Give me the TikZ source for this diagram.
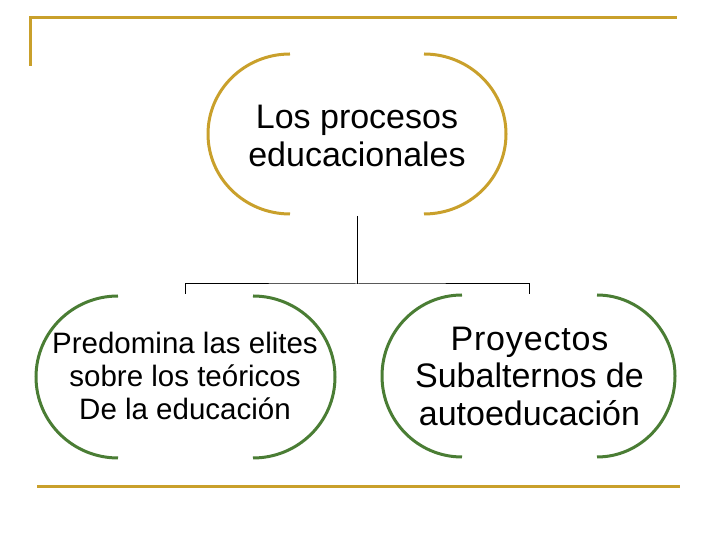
\documentclass[tikz,border=0pt]{standalone}
\usepackage{fontspec}
\setmainfont{Liberation Sans}
\definecolor{goldline}{RGB}{201,160,43}
\definecolor{greenline}{RGB}{74,125,52}
\begin{document}
\begin{tikzpicture}[x=1pt,y=1pt,
  goldarc/.style={draw=goldline,line width=3pt},
  greenarc/.style={draw=greenline,line width=3pt},
  frameline/.style={draw=goldline,line width=3pt},
  conn/.style={draw=black,line width=1pt},
  box/.style={inner sep=0pt,outer sep=0pt,align=center,text=black}]
\useasboundingbox (0,0) rectangle (720,540);
% frame
\draw[frameline] (30,474) -- (30,522) -- (677,522);
\draw[frameline] (37,53) -- (680,53);
% nodes (invisible boxes spanning the bracket shapes)
\node[box,minimum width=298pt,minimum height=164pt] (top) at (357,406) {};
\node[box,minimum width=299pt,minimum height=166pt] (bl) at (185.5,163) {};
\node[box,minimum width=293pt,minimum height=164pt] (br) at (529.5,164) {};
% texts
\node[box,font=\fontsize{34}{37.5}\selectfont] (toptext) at ([yshift=-2pt]top.center) {Los procesos\\educacionales};
\node[box,font=\fontsize{29.5}{33}\selectfont] (bltext) at ([xshift=-0.5pt,yshift=1pt]bl.center) {Predomina las elites\\sobre los teóricos\\De la educación};
\node[box,font=\fontsize{34}{37.5}\selectfont] (brtext) at ([yshift=0pt]br.center) {{\addfontfeature{LetterSpace=2.5}Proyectos}\\Subalternos de\\autoeducación};
% brackets
\draw[goldarc] (290,486) arc[start angle=90,end angle=270,x radius=82,y radius=80];
\draw[goldarc] (424,486) arc[start angle=90,end angle=-90,x radius=82,y radius=80];
\draw[greenarc] (118,244) arc[start angle=90,end angle=270,x radius=82,y radius=81];
\draw[greenarc] (253,244) arc[start angle=90,end angle=-90,x radius=82,y radius=81];
\draw[greenarc] (462,245) arc[start angle=90,end angle=270,x radius=80,y radius=81];
\draw[greenarc] (597,245) arc[start angle=90,end angle=-90,x radius=78,y radius=81];
% connectors
\coordinate (j) at (357,256);
\draw[conn] (top.south) -- (j);
\draw[conn] (bl.north) |- (j) -| (br.north);
\end{tikzpicture}
\end{document}
